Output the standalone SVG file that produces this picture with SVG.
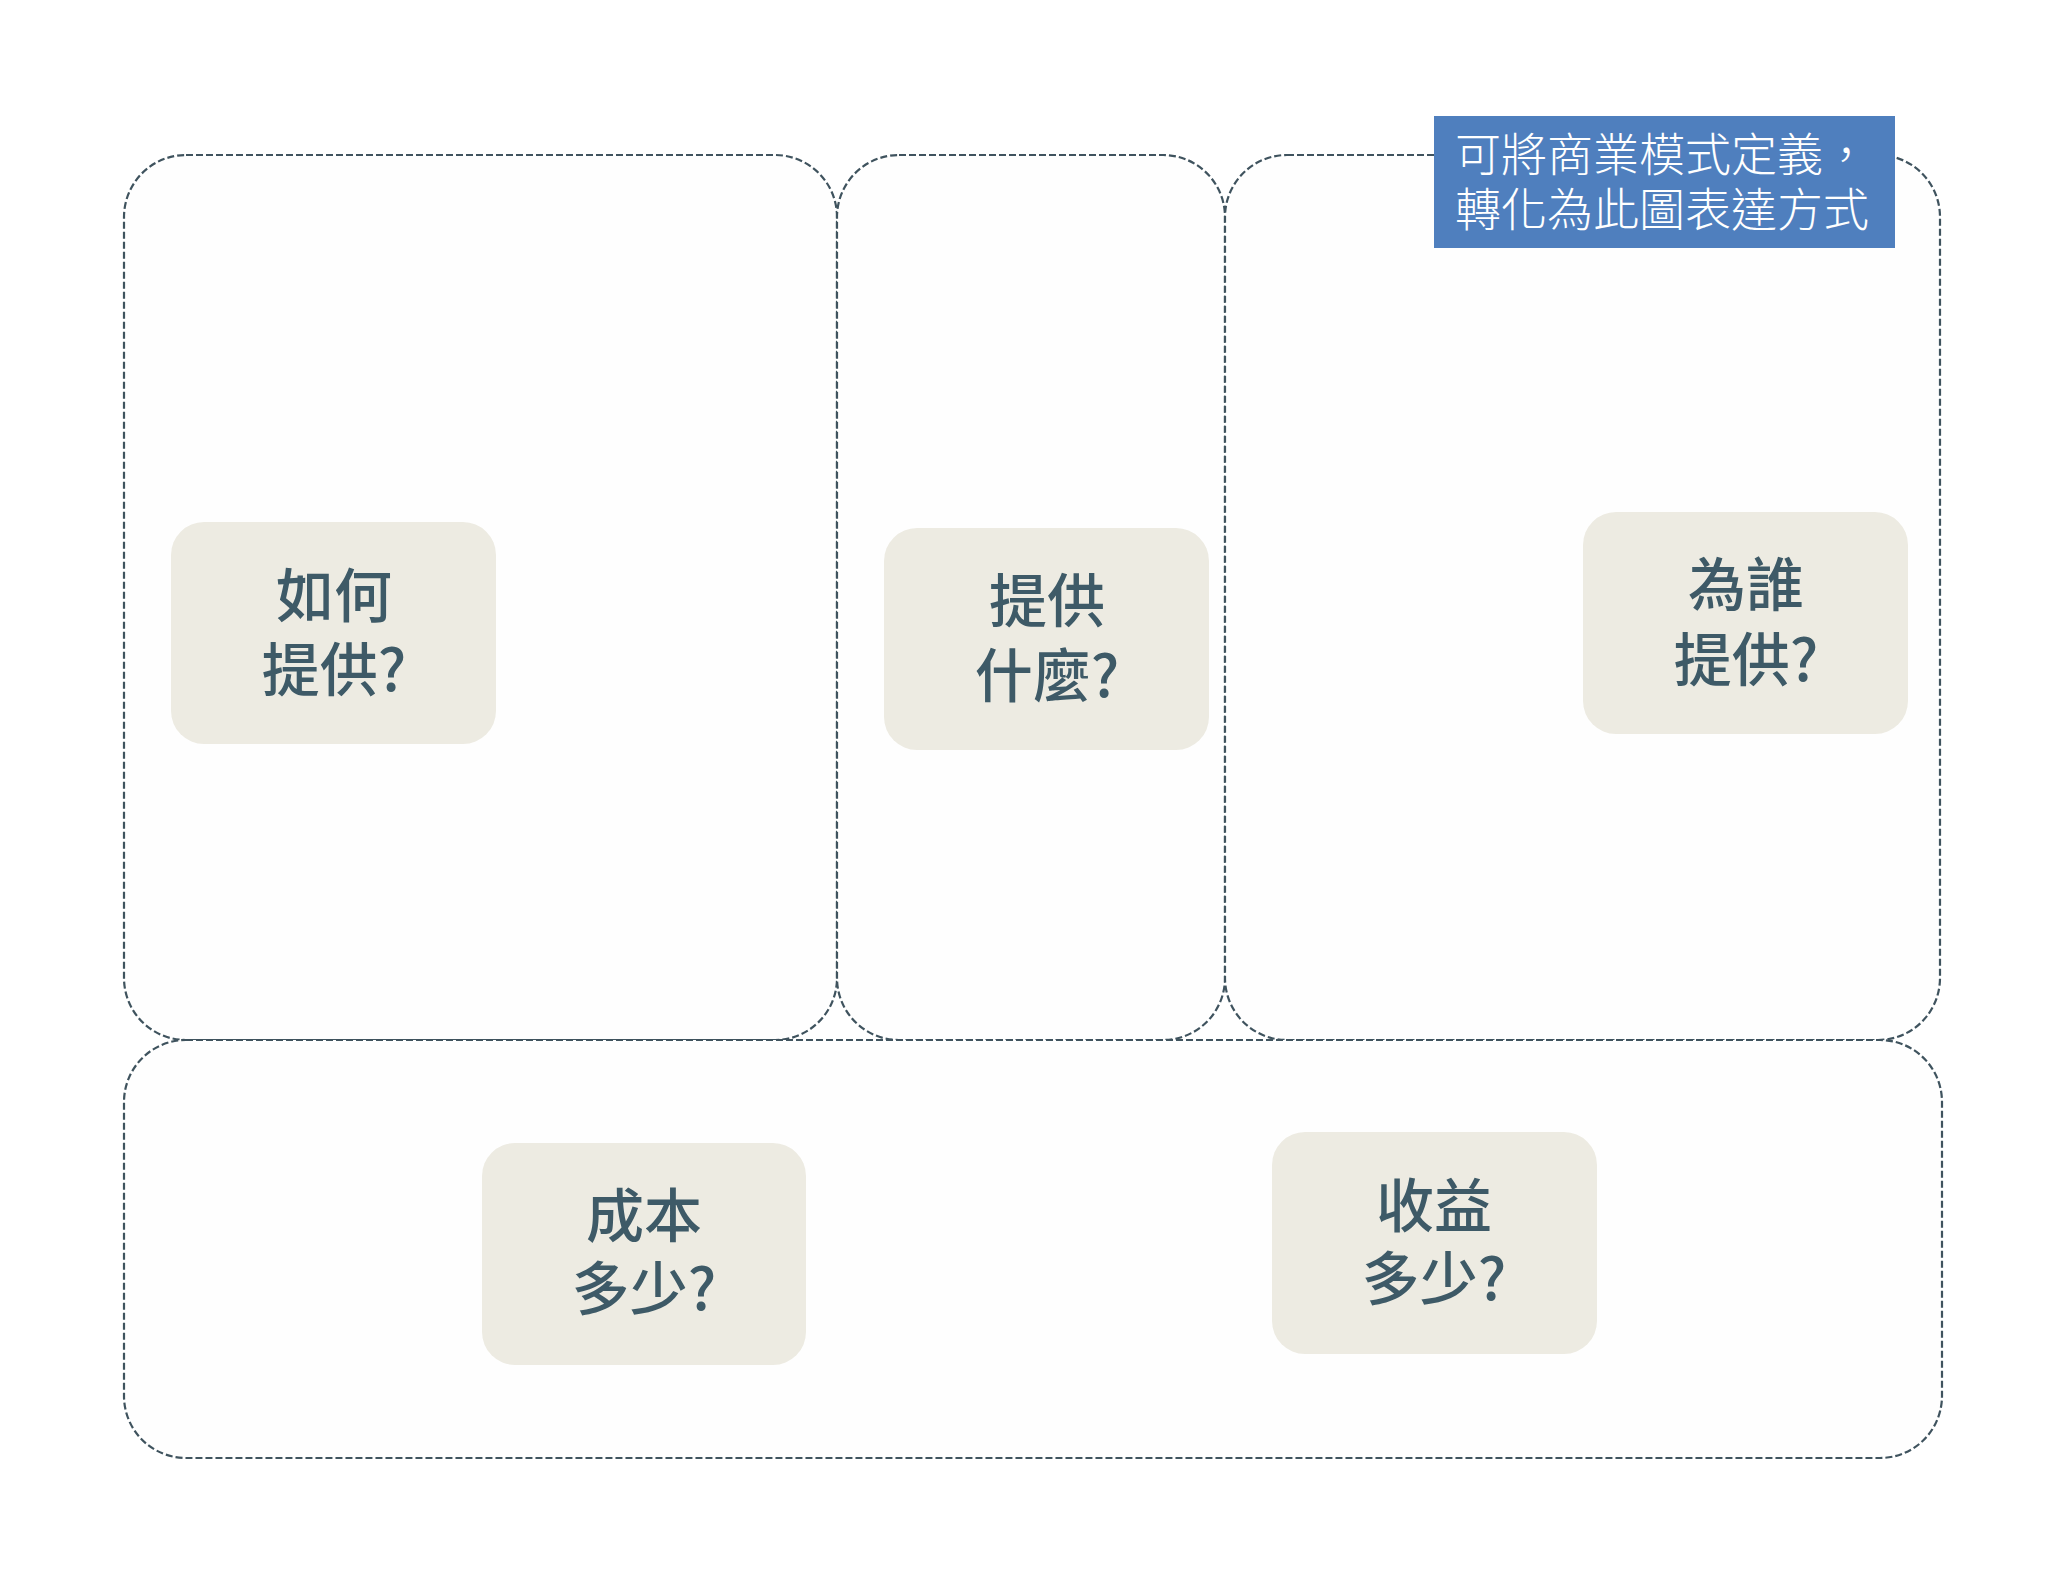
<svg xmlns="http://www.w3.org/2000/svg" width="2048" height="1582" viewBox="0 0 2048 1582">
  <style>
    .frame { fill: #FEFEFE; stroke: #3F535E; stroke-width: 2.2; stroke-dasharray: 7 3; }
    .card { fill: #EDEBE2; }
    .q { font-family: "Noto Sans CJK TC", "Noto Sans CJK SC", sans-serif; font-weight: 500; font-size: 58px; fill: #3E5A67; text-anchor: middle; }
    .note { font-family: "Noto Sans CJK TC", "Noto Sans CJK SC", sans-serif; font-weight: 300; font-size: 46px; fill: #FFFFFF; }
  </style>
  <rect x="0" y="0" width="2048" height="1582" fill="#FFFFFF"/>
  <g id="frames">
    <rect id="frame-how" class="frame" x="124" y="155" width="713" height="885" rx="62" ry="62"/>
    <rect id="frame-what" class="frame" x="837" y="155" width="388" height="885" rx="62" ry="62"/>
    <rect id="frame-who" class="frame" x="1225" y="155" width="715" height="885" rx="62" ry="62"/>
    <rect id="frame-money" class="frame" x="124" y="1040" width="1818" height="418" rx="62" ry="62"/>
  </g>
  <g id="node-how">
    <rect class="card" x="171" y="522" width="325" height="222" rx="33" ry="33"/>
    <text class="q" x="334" y="617">如何</text>
    <text class="q" x="334" y="691">提供?</text>
  </g>
  <g id="node-what">
    <rect class="card" x="884" y="528" width="325" height="222" rx="33" ry="33"/>
    <text class="q" x="1047" y="622">提供</text>
    <text class="q" x="1047" y="697">什麼?</text>
  </g>
  <g id="node-who">
    <rect class="card" x="1583" y="512" width="325" height="222" rx="33" ry="33"/>
    <text class="q" x="1746" y="606">為誰</text>
    <text class="q" x="1746" y="681">提供?</text>
  </g>
  <g id="node-cost">
    <rect class="card" x="482" y="1143" width="324" height="222" rx="33" ry="33"/>
    <text class="q" x="644" y="1237">成本</text>
    <text class="q" x="644" y="1310">多少?</text>
  </g>
  <g id="node-revenue">
    <rect class="card" x="1272" y="1132" width="325" height="222" rx="33" ry="33"/>
    <text class="q" x="1434" y="1227">收益</text>
    <text class="q" x="1434" y="1300">多少?</text>
  </g>
  <g id="note">
    <rect x="1434" y="116" width="461" height="132" fill="#4F7FBE"/>
    <text class="note" x="1455" y="171">可將商業模式定義，</text>
    <text class="note" x="1455" y="226">轉化為此圖表達方式</text>
  </g>
  <g id="connectors"></g>
</svg>
